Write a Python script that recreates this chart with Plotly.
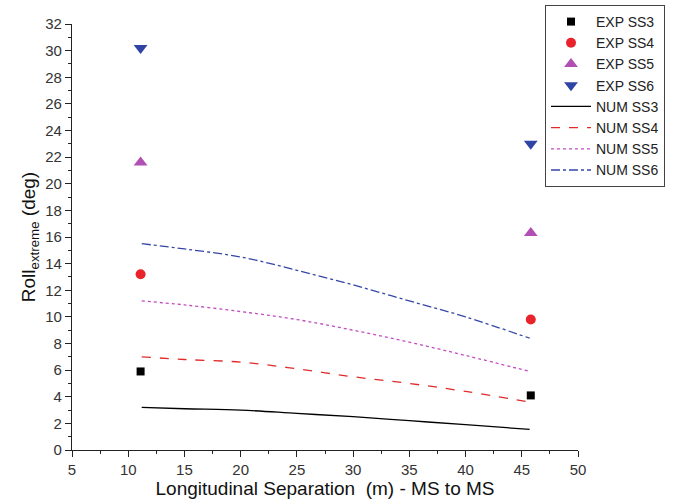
import plotly.graph_objects as go

exp_x = [11.1, 45.8]
exp_ss3 = [5.9, 4.1]
exp_ss4 = [13.2, 9.8]
exp_ss5 = [21.6, 16.3]
exp_ss6 = [30.2, 23.0]

num_x = [11.2, 15, 20, 25, 30, 35, 40, 45.7]
num_ss3 = [3.2, 3.1, 3.0, 2.75, 2.5, 2.2, 1.9, 1.55]
num_ss4 = [7.0, 6.8, 6.6, 6.1, 5.5, 5.0, 4.4, 3.6]
num_ss5 = [11.2, 10.9, 10.4, 9.8, 9.0, 8.1, 7.1, 5.9]
num_ss6 = [15.5, 15.1, 14.5, 13.5, 12.4, 11.2, 10.0, 8.4]

fig = go.Figure()
fig.add_trace(go.Scatter(x=exp_x, y=exp_ss3, mode="markers", name="EXP SS3",
                         marker=dict(symbol="square", size=8, color="#000000")))
fig.add_trace(go.Scatter(x=exp_x, y=exp_ss4, mode="markers", name="EXP SS4",
                         marker=dict(symbol="circle", size=10, color="#e8232b")))
fig.add_trace(go.Scatter(x=exp_x, y=exp_ss5, mode="markers", name="EXP SS5",
                         marker=dict(symbol="triangle-up", size=12, color="#b24fb4")))
fig.add_trace(go.Scatter(x=exp_x, y=exp_ss6, mode="markers", name="EXP SS6",
                         marker=dict(symbol="triangle-down", size=12, color="#2f45a5")))
fig.add_trace(go.Scatter(x=num_x, y=num_ss3, mode="lines", name="NUM SS3",
                         line=dict(color="#000000", width=1.3, dash="solid", shape="spline")))
fig.add_trace(go.Scatter(x=num_x, y=num_ss4, mode="lines", name="NUM SS4",
                         line=dict(color="#e02a2a", width=1.3, dash="dash", shape="spline")))
fig.add_trace(go.Scatter(x=num_x, y=num_ss5, mode="lines", name="NUM SS5",
                         line=dict(color="#c04cc0", width=1.3, dash="dot", shape="spline")))
fig.add_trace(go.Scatter(x=num_x, y=num_ss6, mode="lines", name="NUM SS6",
                         line=dict(color="#3447a8", width=1.3, dash="dashdot", shape="spline")))

axis_common = dict(showgrid=False, zeroline=False, showline=True, linecolor="#222222",
                   linewidth=1.2, ticks="outside", ticklen=6, tickwidth=1.2, tickcolor="#222222",
                   tickfont=dict(family="Arial, Liberation Sans", size=15, color="#333333"),
                   minor=dict(ticks="outside", ticklen=3, tickwidth=1, tickcolor="#222222"))

fig.update_layout(
    width=675, height=504,
    margin=dict(l=72, r=97, t=24, b=54, autoexpand=False),
    paper_bgcolor="white", plot_bgcolor="white",
    font=dict(family="Arial, Liberation Sans", color="#111111"),
    xaxis=dict(range=[5, 50], tickvals=[5, 10, 15, 20, 25, 30, 35, 40, 45, 50],
               title=dict(text="Longitudinal Separation  (m) - MS to MS",
                          font=dict(size=19, color="#111111"), standoff=0),
               **axis_common),
    yaxis=dict(range=[0, 32], dtick=2,
               title=dict(text="Roll<sub>extreme</sub> (deg)",
                          font=dict(size=19, color="#111111"), standoff=4),
               **axis_common),
    legend=dict(x=545 / 675, y=1 - 5 / 504, xref="container", yref="container",
                xanchor="left", yanchor="top",
                bgcolor="white", bordercolor="#444444", borderwidth=1,
                font=dict(family="Arial, Liberation Sans", size=14, color="#222222"),
                tracegroupgap=0, itemwidth=40),
    showlegend=True,
)
fig.update_xaxes(minor=dict(dtick=2.5))
fig.update_yaxes(minor=dict(dtick=1))

fig.write_html("out.html")
